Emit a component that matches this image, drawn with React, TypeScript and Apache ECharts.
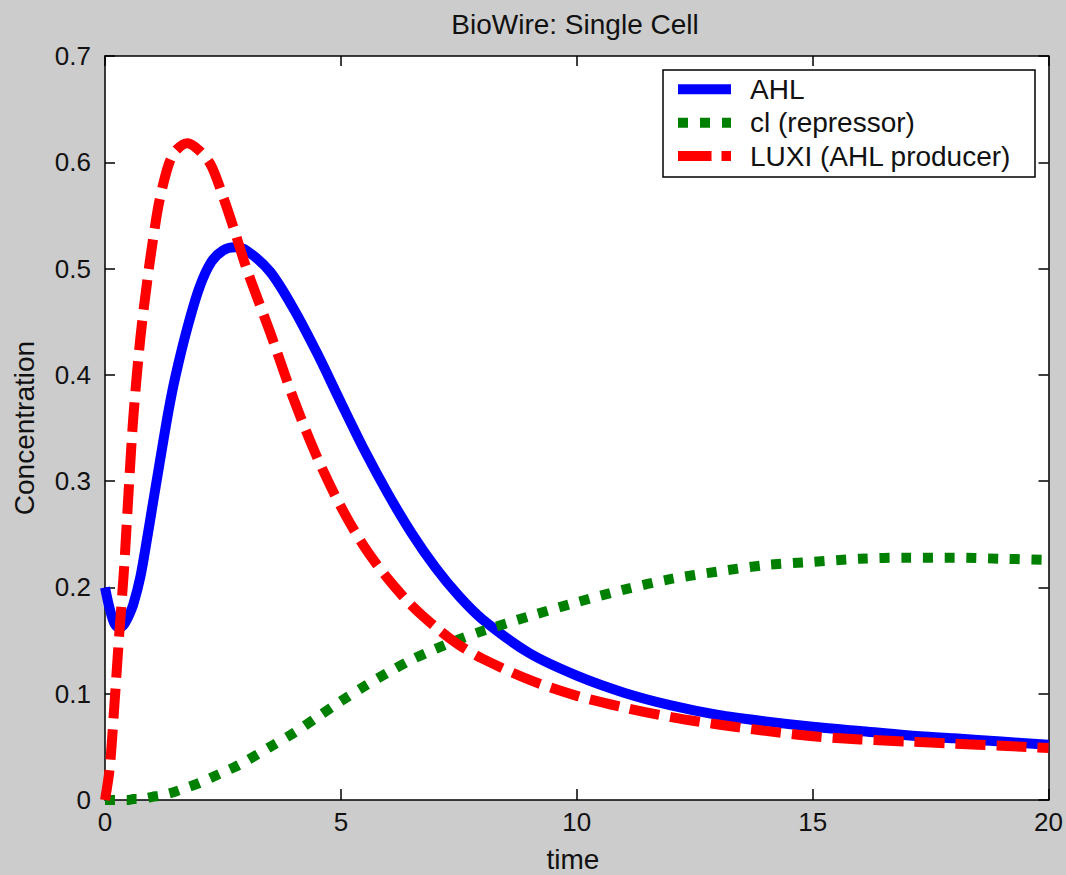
import React, { useEffect, useRef } from "react";
import * as echarts from "echarts";

const TITLE = "BioWire: Single Cell";
const X_NAME = "time";
const Y_NAME = "Concentration";
const X_MIN = 0;
const X_MAX = 20;
const X_STEP = 5;
const Y_MIN = 0;
const Y_MAX = 0.7;
const Y_STEP = 0.1;

const SERIES_NAMES = ["AHL", "cI (repressor)", "LUXI (AHL producer)"];
const LEGEND_LABELS = ["AHL", "cl (repressor)", "LUXI (AHL producer)"];

const TIME = [
  0, 0.1, 0.2, 0.3, 0.4, 0.5, 0.6, 0.75, 0.9, 1.0, 1.15, 1.35, 1.5, 1.75, 2.0,
  2.25, 2.5, 2.75, 3.0, 3.5, 4, 4.5, 5, 5.5, 6, 6.5, 7, 7.5, 8, 9, 10, 11, 12,
  13, 14, 15, 16, 17, 18, 19, 20,
];

const AHL = [
  0.2, 0.18, 0.166, 0.162, 0.165, 0.173, 0.184, 0.21, 0.248, 0.275, 0.315,
  0.367, 0.4, 0.445, 0.482, 0.506, 0.517, 0.52, 0.517, 0.497, 0.462, 0.42,
  0.374, 0.329, 0.288, 0.251, 0.219, 0.192, 0.17, 0.138, 0.117, 0.101, 0.089,
  0.08, 0.074, 0.069, 0.065, 0.061, 0.058, 0.055, 0.052,
];

const CI = [
  0, 0, 0, 0, 0, 0, 0.001, 0.001, 0.002, 0.003, 0.004, 0.006, 0.008, 0.012,
  0.016, 0.021, 0.026, 0.031, 0.037, 0.05, 0.063, 0.078, 0.093, 0.107, 0.12,
  0.132, 0.142, 0.151, 0.159, 0.173, 0.186, 0.198, 0.208, 0.215, 0.221, 0.224,
  0.227, 0.228, 0.228, 0.227, 0.226,
];

const LUXI = [
  0, 0.03, 0.09, 0.155, 0.215, 0.29, 0.36, 0.435, 0.49, 0.522, 0.563, 0.598,
  0.611, 0.618, 0.611, 0.597, 0.568, 0.535, 0.5, 0.44, 0.377, 0.322, 0.276,
  0.238, 0.208, 0.183, 0.163, 0.146, 0.133, 0.113, 0.098, 0.087, 0.078, 0.071,
  0.065, 0.06, 0.057, 0.055, 0.053, 0.051, 0.049,
];

const COLORS = ["#0000ff", "#008000", "#ff0000"];
const DASHES: (number[] | null)[] = [null, [10, 11.7], [30, 11]];

const FONT = "'Liberation Sans', Arial, Helvetica, sans-serif";

export default function App() {
  const ref = useRef<HTMLDivElement>(null);

  useEffect(() => {
    if (!ref.current) return;
    const chart = echarts.init(ref.current, null, { renderer: "svg" });

    const axisLine = { show: true, onZero: false, lineStyle: { color: "#000", width: 1.5 } };
    const tickStyle = { color: "#000", width: 1.5 };
    const labelStyle = { color: "#111", fontSize: 26, fontFamily: FONT };

    const valuesList = [AHL, CI, LUXI];
    const series = valuesList.map((vals, i) => ({
      type: "line",
      name: SERIES_NAMES[i],
      data: TIME.map((t, j) => [t, vals[j]]),
      xAxisIndex: 0,
      yAxisIndex: 0,
      showSymbol: false,
      symbol: "none",
      smooth: 0.3,
      silent: true,
      z: 2 + i,
      lineStyle: {
        color: COLORS[i],
        width: 10,
        type: DASHES[i] ? DASHES[i] : "solid",
        cap: "butt",
        join: "round",
      },
      emphasis: { disabled: true },
    }));

    const legendX = 663;
    const legendY = 70;
    const rowYs = [89.3, 122.7, 156];
    const legendGraphics: any[] = [
      {
        type: "rect",
        z: 100,
        shape: { x: legendX, y: legendY, width: 372, height: 107 },
        style: { fill: "#ffffff", stroke: "#000", lineWidth: 1.5 },
      },
    ];
    LEGEND_LABELS.forEach((label, i) => {
      legendGraphics.push({
        type: "line",
        z: 101,
        shape: { x1: 678, y1: rowYs[i], x2: 731, y2: rowYs[i] },
        style: {
          stroke: COLORS[i],
          lineWidth: 10,
          lineDash: i === 2 ? [33.5, 10] : DASHES[i] ? [10, 12] : null,
          lineCap: "butt",
        },
      });
      legendGraphics.push({
        type: "text",
        z: 101,
        x: 750,
        y: rowYs[i],
        style: {
          text: label,
          fill: "#111",
          fontSize: 28,
          fontFamily: FONT,
          align: "left",
          verticalAlign: "middle",
        },
      });
    });

    chart.setOption({
      animation: false,
      backgroundColor: "#cccccc",
      grid: {
        left: 105,
        right: 17,
        top: 56,
        bottom: 75,
        show: true,
        backgroundColor: "#ffffff",
        borderWidth: 0,
      },
      xAxis: [
        {
          type: "value",
          min: X_MIN,
          max: X_MAX,
          interval: X_STEP,
          position: "bottom",
          axisLine,
          axisTick: { show: true, inside: true, length: 11, lineStyle: tickStyle },
          axisLabel: { show: true, margin: 9, ...labelStyle },
          splitLine: { show: false },
        },
        {
          type: "value",
          min: X_MIN,
          max: X_MAX,
          interval: X_STEP,
          position: "top",
          axisLine,
          axisTick: { show: true, inside: true, length: 10, lineStyle: tickStyle },
          axisLabel: { show: false },
          splitLine: { show: false },
        },
      ],
      yAxis: [
        {
          type: "value",
          min: Y_MIN,
          max: Y_MAX,
          interval: Y_STEP,
          position: "left",
          axisLine,
          axisTick: { show: true, inside: true, length: 10, lineStyle: tickStyle },
          axisLabel: {
            show: true,
            margin: 14,
            ...labelStyle,
            formatter: (v: number) => String(Math.round(v * 10) / 10),
          },
          splitLine: { show: false },
        },
        {
          type: "value",
          min: Y_MIN,
          max: Y_MAX,
          interval: Y_STEP,
          position: "right",
          axisLine,
          axisTick: { show: true, inside: true, length: 10, lineStyle: tickStyle },
          axisLabel: { show: false },
          splitLine: { show: false },
        },
      ],
      series,
      graphic: [
        {
          type: "text",
          z: 100,
          x: 575,
          y: 24,
          style: {
            text: TITLE,
            fill: "#111",
            fontSize: 28,
            fontFamily: FONT,
            align: "center",
            verticalAlign: "middle",
          },
        },
        {
          type: "text",
          z: 100,
          x: 573,
          y: 859,
          style: {
            text: X_NAME,
            fill: "#111",
            fontSize: 28,
            fontFamily: FONT,
            align: "center",
            verticalAlign: "middle",
          },
        },
        {
          type: "text",
          z: 100,
          x: 24,
          y: 428,
          rotation: Math.PI / 2,
          style: {
            text: Y_NAME,
            fill: "#111",
            fontSize: 28,
            fontFamily: FONT,
            align: "center",
            verticalAlign: "middle",
          },
        },
        ...legendGraphics,
      ],
    });

    return () => chart.dispose();
  }, []);

  return (
    <div
      ref={ref}
      style={{ position: "fixed", left: 0, top: 0, width: 1066, height: 875 }}
    />
  );
}
